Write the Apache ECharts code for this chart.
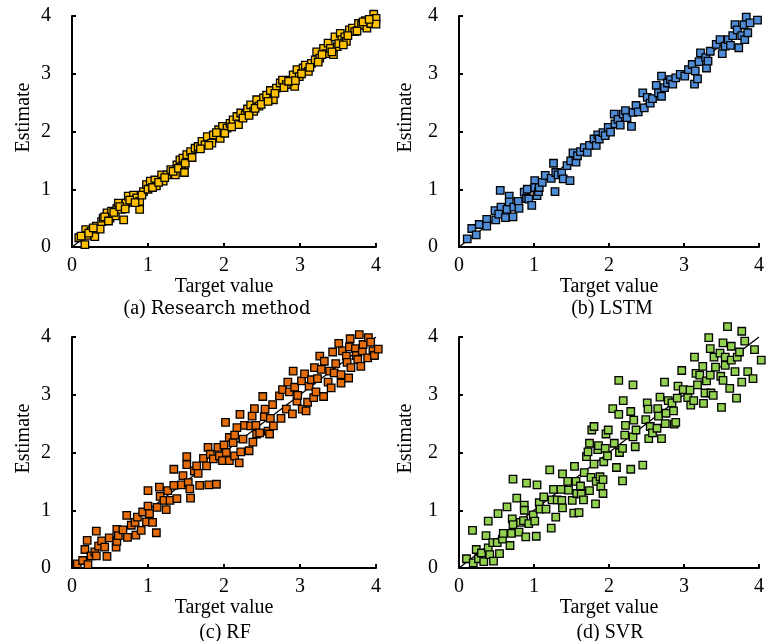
<!DOCTYPE html>
<html>
<head>
<meta charset="utf-8">
<script src="https://cdn.jsdelivr.net/npm/echarts@6/dist/echarts.min.js"></script>
<style>
  html, body { margin: 0; padding: 0; background: #fff; }
  #main { width: 767px; height: 641px; }
</style>
</head>
<body>
<div id="main"></div>
<script>
// [target value, estimate]
var researchData = [
  [0.09,0.16],[0.17,0.04],[0.18,0.30],[0.20,0.20],[0.25,0.27],[0.30,0.18],[0.32,0.36],[0.37,0.31],
  [0.39,0.44],[0.41,0.50],[0.46,0.59],[0.50,0.50],[0.52,0.62],[0.57,0.54],[0.59,0.67],[0.61,0.76],
  [0.65,0.65],[0.68,0.47],[0.71,0.76],[0.74,0.88],[0.79,0.79],[0.81,0.90],[0.85,0.85],[0.89,0.65],
  [0.89,0.79],[0.94,0.96],[0.98,1.08],[1.03,1.14],[1.09,1.16],[1.11,1.06],[1.18,1.25],[1.20,1.14],
  [1.25,1.25],[1.30,1.34],[1.36,1.25],[1.38,1.42],[1.42,1.51],[1.44,1.39],[1.46,1.54],[1.51,1.60],
  [1.56,1.65],[1.62,1.71],[1.66,1.74],[1.71,1.83],[1.75,1.77],[1.78,1.91],[1.84,1.80],[1.86,1.94],
  [1.93,2.03],[1.95,1.88],[1.98,2.09],[2.04,2.06],[2.08,2.14],[2.12,2.20],[2.17,2.26],[2.19,2.12],
  [2.22,2.32],[2.28,2.29],[2.31,2.39],[2.35,2.46],[2.39,2.35],[2.43,2.55],[2.46,2.44],[2.52,2.58],
  [2.56,2.63],[2.61,2.71],[2.65,2.55],[2.69,2.75],[2.74,2.84],[2.77,2.89],[2.82,2.81],[2.87,2.89],
  [2.91,2.98],[2.93,2.78],[2.96,3.07],[2.99,2.95],[3.04,3.10],[3.07,3.15],[3.11,3.04],[3.15,3.18],
  [3.20,3.24],[3.22,3.38],[3.26,3.27],[3.31,3.44],[3.34,3.35],[3.37,3.53],[3.40,3.44],[3.44,3.33],
  [3.46,3.64],[3.49,3.47],[3.53,3.70],[3.55,3.59],[3.59,3.64],[3.61,3.56],[3.65,3.76],[3.69,3.79],
  [3.72,3.73],[3.77,3.87],[3.81,3.84],[3.86,3.92],[3.88,3.79],[3.93,3.87],[3.97,4.03],[4.00,3.96],
  [4.00,3.86],
  [0.12,0.19],[0.22,0.24],[0.28,0.33],[0.43,0.52],[0.48,0.45],[0.55,0.60],[0.63,0.70],[0.70,0.66],
  [0.76,0.81],[0.83,0.77],[0.92,0.90],[1.00,1.00],[1.06,1.03],[1.14,1.12],[1.22,1.20],[1.33,1.31],
  [1.40,1.36],[1.48,1.29],[1.49,1.45],[1.58,1.55],[1.69,1.70],[1.80,1.76],[1.90,1.98],[2.01,1.97],
  [2.10,2.08],[2.25,2.23],[2.33,2.28],[2.41,2.40],[2.49,2.47],[2.58,2.52],[2.67,2.66],[2.79,2.76],
  [2.85,2.87],[2.94,2.88],[3.02,3.00],[3.13,3.11],[3.24,3.20],[3.29,3.33],[3.42,3.38],[3.51,3.52],
  [3.57,3.50],[3.63,3.66],[3.75,3.74],[3.83,3.90],[3.91,3.94]
];

var lstmData = [
  [0.11,0.14],[0.17,0.32],[0.23,0.21],[0.27,0.39],[0.37,0.48],[0.37,0.36],[0.48,0.63],[0.49,0.47],
  [0.55,0.98],[0.56,0.69],[0.53,0.57],[0.62,0.51],[0.64,0.65],[0.67,0.88],[0.67,0.78],[0.72,0.52],
  [0.73,0.69],[0.79,0.79],[0.80,0.67],[0.87,0.95],[0.90,0.84],[0.91,1.00],[0.93,0.83],[0.97,0.72],
  [1.01,1.15],[1.01,1.03],[1.04,0.89],[1.06,0.96],[1.07,1.03],[1.11,1.12],[1.15,1.24],[1.23,1.19],
  [1.26,1.45],[1.28,0.96],[1.29,1.29],[1.32,1.25],[1.37,1.28],[1.39,1.18],[1.44,1.41],[1.48,1.15],
  [1.49,1.49],[1.52,1.63],[1.56,1.47],[1.58,1.58],[1.62,1.65],[1.67,1.72],[1.71,1.64],[1.74,1.76],
  [1.80,1.87],[1.83,1.76],[1.85,1.94],[1.87,1.87],[1.92,1.98],[1.95,1.93],[1.99,2.07],[2.02,1.99],
  [2.07,2.30],[2.08,2.13],[2.12,2.21],[2.15,2.11],[2.19,2.30],[2.22,2.36],[2.24,2.24],[2.30,2.09],
  [2.32,2.33],[2.36,2.45],[2.39,2.34],[2.45,2.67],[2.47,2.41],[2.51,2.59],[2.55,2.49],[2.58,2.57],
  [2.63,2.80],[2.66,2.67],[2.70,2.96],[2.70,2.61],[2.74,2.76],[2.78,2.84],[2.82,2.90],[2.85,2.82],
  [2.89,2.93],[2.95,2.99],[3.01,2.96],[3.06,3.07],[3.11,3.16],[3.14,2.82],[3.15,3.05],[3.18,2.91],
  [3.20,3.21],[3.22,3.36],[3.29,3.28],[3.30,3.10],[3.32,3.22],[3.35,3.39],[3.43,3.51],[3.48,3.59],
  [3.51,3.35],[3.55,3.48],[3.59,3.59],[3.62,3.49],[3.65,3.66],[3.68,3.85],[3.71,3.76],[3.73,3.45],
  [3.77,3.66],[3.80,3.85],[3.81,3.59],[3.83,3.98],[3.85,3.71],[3.88,3.88],[3.98,3.93]
];

var rfData = [
  [0.07,0.07],[0.14,0.13],[0.17,0.32],[0.20,0.48],[0.21,0.06],[0.25,0.21],[0.30,0.28],[0.32,0.21],
  [0.32,0.64],[0.35,0.38],[0.39,0.47],[0.43,0.36],[0.46,0.20],[0.49,0.52],[0.58,0.36],[0.59,0.46],
  [0.59,0.67],[0.61,0.56],[0.67,0.66],[0.72,0.91],[0.73,0.53],[0.78,0.74],[0.84,0.57],[0.83,0.79],
  [0.86,0.88],[0.91,0.65],[0.93,0.97],[0.98,0.80],[1.00,1.34],[1.00,1.07],[1.02,0.94],[1.06,0.79],
  [1.11,0.61],[1.12,1.05],[1.15,1.40],[1.16,1.24],[1.21,1.17],[1.24,1.01],[1.26,1.34],[1.29,1.17],
  [1.34,1.43],[1.38,1.20],[1.34,1.71],[1.44,1.44],[1.46,1.60],[1.51,1.93],[1.51,1.79],[1.53,1.48],
  [1.56,1.21],[1.55,1.37],[1.61,1.68],[1.64,1.77],[1.66,1.64],[1.68,1.43],[1.73,1.90],[1.77,1.77],
  [1.79,2.09],[1.80,1.44],[1.82,1.97],[1.86,1.89],[1.90,1.45],[1.92,2.09],[1.94,1.94],[1.98,1.86],
  [2.00,2.13],[2.02,2.52],[2.03,2.00],[2.07,2.26],[2.07,1.86],[2.12,2.17],[2.14,2.30],[2.14,1.94],
  [2.17,2.43],[2.20,1.82],[2.21,2.66],[2.22,2.01],[2.25,2.23],[2.27,2.47],[2.33,2.03],[2.35,2.46],
  [2.37,2.63],[2.38,2.18],[2.40,2.76],[2.42,2.47],[2.43,2.32],[2.47,2.34],[2.51,2.97],[2.53,2.62],
  [2.54,2.75],[2.58,2.37],[2.60,2.32],[2.61,2.59],[2.64,2.83],[2.65,2.46],[2.73,2.98],[2.75,2.59],
  [2.77,3.09],[2.82,2.75],[2.84,3.22],[2.86,3.05],[2.90,2.67],[2.91,3.41],[2.93,3.13],[2.96,2.89],
  [2.97,2.99],[3.02,3.24],[3.03,2.75],[3.06,3.36],[3.08,2.72],[3.10,2.87],[3.12,3.15],[3.15,3.26],
  [3.18,2.95],[3.19,3.47],[3.21,3.05],[3.23,3.28],[3.26,3.67],[3.28,3.44],[3.31,2.97],[3.32,3.58],
  [3.37,3.22],[3.39,3.41],[3.41,3.12],[3.43,3.74],[3.45,3.38],[3.47,3.54],[3.51,3.89],[3.54,3.35],
  [3.54,3.20],[3.56,3.76],[3.61,3.67],[3.62,3.56],[3.64,3.29],[3.65,3.83],[3.66,3.97],[3.67,3.47],
  [3.73,3.80],[3.74,3.68],[3.76,3.61],[3.78,4.04],[3.80,3.49],[3.82,3.76],[3.83,3.87],[3.89,3.64],
  [3.90,3.99],[3.93,3.91],[3.96,3.76],[3.98,3.68],[4.03,3.79]
];

var svrData = [
  [0.10,0.16],[0.18,0.65],[0.19,0.09],[0.23,0.32],[0.26,0.16],[0.30,0.26],[0.33,0.11],[0.36,0.56],
  [0.39,0.81],[0.39,0.35],[0.41,0.23],[0.45,0.44],[0.46,0.12],[0.51,0.44],[0.52,0.94],[0.54,0.25],
  [0.58,0.50],[0.59,0.60],[0.64,1.06],[0.68,0.39],[0.70,0.60],[0.71,0.85],[0.72,1.54],[0.72,0.75],
  [0.77,1.21],[0.80,0.62],[0.82,0.79],[0.86,0.82],[0.87,1.09],[0.87,1.00],[0.89,0.54],[0.90,1.47],
  [0.93,0.77],[0.99,0.92],[1.01,0.81],[1.03,0.55],[1.04,1.44],[1.07,1.13],[1.08,1.02],[1.13,1.23],
  [1.16,1.02],[1.21,1.70],[1.23,0.69],[1.24,1.18],[1.26,1.36],[1.29,0.88],[1.31,1.18],[1.36,1.36],
  [1.37,1.17],[1.38,1.63],[1.38,1.04],[1.45,1.50],[1.46,1.35],[1.51,1.17],[1.53,0.95],[1.54,1.76],
  [1.56,1.50],[1.57,1.29],[1.60,0.96],[1.62,1.42],[1.63,1.28],[1.66,1.18],[1.67,1.65],[1.70,1.93],
  [1.72,2.01],[1.74,1.34],[1.74,2.16],[1.76,1.57],[1.77,2.39],[1.80,2.45],[1.80,1.80],[1.82,1.11],
  [1.83,1.50],[1.85,2.05],[1.86,2.12],[1.88,1.58],[1.89,1.41],[1.92,1.53],[1.92,1.29],[1.93,1.84],
  [1.95,2.07],[1.96,2.32],[1.98,1.94],[1.99,2.39],[2.05,2.76],[2.07,2.16],[2.10,1.74],[2.13,2.66],
  [2.13,3.25],[2.14,2.00],[2.18,2.07],[2.18,1.51],[2.19,2.90],[2.21,2.30],[2.22,2.47],[2.29,1.71],
  [2.29,2.71],[2.32,2.27],[2.32,3.17],[2.33,2.56],[2.35,2.10],[2.36,2.39],[2.45,1.78],[2.49,2.57],
  [2.51,2.86],[2.52,2.75],[2.53,2.24],[2.55,2.45],[2.58,2.34],[2.64,2.42],[2.65,2.76],[2.66,2.63],
  [2.68,2.96],[2.70,2.24],[2.74,3.22],[2.75,2.50],[2.76,2.68],[2.79,2.90],[2.84,2.86],[2.86,2.72],
  [2.87,2.49],[2.89,2.52],[2.91,2.94],[2.92,3.15],[2.97,3.42],[2.99,3.09],[3.05,2.95],[3.08,3.08],
  [3.09,2.82],[3.13,2.90],[3.14,3.65],[3.16,3.37],[3.18,3.17],[3.21,3.34],[3.25,3.49],[3.26,2.85],
  [3.28,3.03],[3.30,3.24],[3.33,3.99],[3.35,3.80],[3.35,3.34],[3.36,3.03],[3.39,2.99],[3.40,3.65],
  [3.42,3.48],[3.48,3.72],[3.49,3.32],[3.50,2.78],[3.52,3.90],[3.52,3.25],[3.55,3.65],[3.55,3.51],
  [3.58,4.18],[3.61,3.11],[3.63,3.60],[3.63,3.84],[3.68,3.40],[3.70,2.94],[3.71,3.65],[3.74,3.74],
  [3.77,4.10],[3.77,3.22],[3.81,3.93],[3.85,3.40],[3.92,3.28],[3.94,3.78],[4.03,3.60]
];

var fitLine = [[0, 0], [4, 4]];
var panelTitles = ['{p|(a) }{w|Research method}', '{p|(b) LSTM}', '{p|(c) RF}', '{p|(d) SVR}'];
var panelColors = ['#FFC000', '#4F8CD6', '#E46C0A', '#92D050'];
var panelData = [researchData, lstmData, rfData, svrData];

var font = '"Liberation Serif", "Times New Roman", serif';

var grids = [
  { left: 72, top: 16, width: 304, height: 231 },
  { left: 459, top: 16, width: 302, height: 231 },
  { left: 72, top: 337, width: 304, height: 231 },
  { left: 459, top: 337, width: 302, height: 231 }
];
var yNameGap = [38, 43, 38, 43];

var titlePos = [
  { left: 217, top: 299 },
  { left: 612, top: 299 },
  { left: 225, top: 623 },
  { left: 610, top: 623 }
];

function axisBase() {
  return {
    type: 'value',
    min: 0,
    max: 4,
    interval: 1,
    splitLine: { show: false },
    axisLine: { show: true, onZero: false, lineStyle: { color: '#000', width: 2 } },
    axisTick: { show: true, inside: true, length: 4, lineStyle: { color: '#000', width: 2 } },
    nameTextStyle: { fontFamily: font, fontSize: 20, color: '#000' }
  };
}

var xAxes = [], yAxes = [], series = [], titles = [];
for (var i = 0; i < 4; i++) {
  var xa = axisBase();
  xa.gridIndex = i;
  xa.name = 'Target value';
  xa.nameLocation = 'middle';
  xa.nameGap = 28;
  xa.axisLabel = { margin: 9, fontFamily: font, fontSize: 20, color: '#000' };
  xAxes.push(xa);

  var ya = axisBase();
  ya.gridIndex = i;
  ya.name = 'Estimate';
  ya.nameLocation = 'middle';
  ya.nameGap = yNameGap[i];
  ya.nameTextStyle.padding = [0, 0, 0, 28];
  ya.axisLabel = { margin: 21, fontFamily: font, fontSize: 20, color: '#000' };
  yAxes.push(ya);

  series.push({
    type: 'line',
    xAxisIndex: i,
    yAxisIndex: i,
    data: fitLine,
    showSymbol: false,
    silent: true,
    lineStyle: { color: '#000', width: 1.3 },
    z: 1
  });
  series.push({
    type: 'scatter',
    xAxisIndex: i,
    yAxisIndex: i,
    data: panelData[i],
    symbol: 'rect',
    symbolSize: 7.5,
    clip: false,
    itemStyle: { color: panelColors[i], borderColor: '#000', borderWidth: 1.3, opacity: 1 },
    z: 2
  });

  titles.push({
    text: panelTitles[i],
    left: titlePos[i].left,
    top: titlePos[i].top,
    textAlign: 'center',
    padding: 0,
    textStyle: {
      fontWeight: 'normal',
      rich: {
        p: { fontFamily: font, fontSize: 20, color: '#000' },
        w: { fontFamily: '"DejaVu Serif", serif', fontSize: 18, color: '#000' }
      }
    }
  });
}

var myChart = echarts.init(document.getElementById('main'));
myChart.setOption({
  animation: false,
  backgroundColor: '#fff',
  title: titles,
  grid: grids,
  xAxis: xAxes,
  yAxis: yAxes,
  series: series
});
</script>
</body>
</html>
